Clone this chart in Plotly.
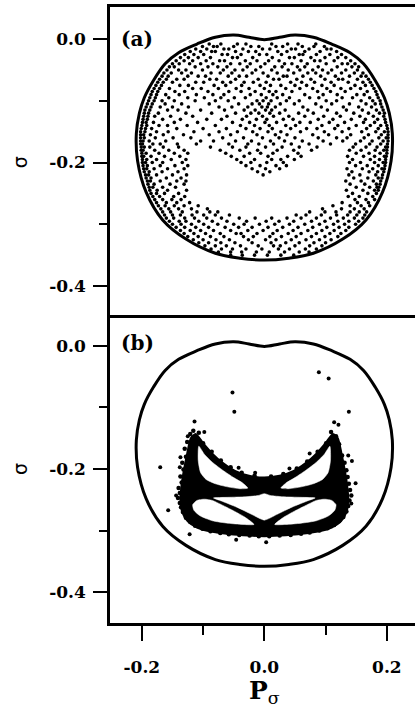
import plotly.graph_objects as go
from plotly.subplots import make_subplots

# ---------------- data ----------------
# energy boundary (same in both panels)
boundary_p = [0.000, -0.025, -0.050, -0.080, -0.110, -0.140, -0.162, -0.181, -0.196, -0.204, -0.209, -0.207,
              -0.193, -0.166, -0.128, -0.080, -0.040, 0.000, 0.040, 0.080, 0.128, 0.166, 0.193, 0.207,
              0.209, 0.204, 0.196, 0.181, 0.162, 0.140, 0.110, 0.080, 0.050, 0.025, 0.000]
boundary_s = [-0.001, 0.003, 0.0065, 0.003, -0.008, -0.022, -0.040, -0.067, -0.095, -0.120, -0.153, -0.197,
              -0.248, -0.293, -0.324, -0.347, -0.355, -0.358, -0.355, -0.347, -0.324, -0.293, -0.248, -0.197,
              -0.153, -0.120, -0.095, -0.067, -0.040, -0.022, -0.008, 0.003, 0.0065, 0.003, -0.001]

# panel (a) chaotic section points, rows of sigma (x1000) and P_sigma values (x1000)
a_sigma_rows = [-8, -12, -16, -20, -25, -30, -35, -40, -45, -50, -55, -60, -65, -70, -75, -80, -85, -90, -95,
                -100, -105, -110, -115, -120, -125, -130, -135, -140, -145, -150, -155, -160, -165, -170,
                -175, -180, -185, -190, -195, -200, -205, -210, -215, -220, -225, -230, -235, -240, -245,
                -250, -255, -260, -265, -270, -275, -280, -285, -290, -295, -300, -305, -310, -315, -320,
                -325, -330, -335, -340, -345, -350]
a_p_rows = [
    [-90, -71, -44, -30, 12, 38, 55, 84],
    [-101, -83, -77, -50, -22, -9, 19, 30, 62, 81, 98],
    [-112, -94, -66, -58, -35, -3, 9, 44, 51, 73, 102, 109],
    [-121, -104, -86, -80, -47, -26, -14, 22, 37, 66, 91, 118],
    [-130, -115, -99, -69, -60, -38, -8, 4, 28, 57, 63, 85, 107, 126],
    [-137, -124, -108, -88, -52, -44, -19, 13, 41, 49, 76, 99, 120, 133],
    [-144, -131, -117, -95, -73, -65, -31, -12, 7, 24, 60, 82, 91, 114, 141],
    [-150, -139, -122, -104, -84, -55, -40, -23, 1, 33, 45, 70, 101, 127, 136, 148],
    [-155, -147, -113, -92, -76, -61, -28, -6, 17, 29, 54, 66, 88, 119, 143, 154],
    [-159, -140, -128, -101, -67, -48, -35, -14, 12, 39, 58, 79, 95, 110, 133, 152],
    [-164, -152, -135, -119, -87, -72, -53, -20, -2, 21, 48, 71, 84, 104, 126, 147, 161],
    [-167, -157, -125, -108, -96, -59, -41, -29, 6, 31, 37, 63, 92, 116, 139, 158, 166],
    [-171, -160, -143, -131, -89, -78, -47, -10, 15, 24, 53, 76, 99, 121, 128, 152, 170],
    [-174, -165, -150, -112, -99, -68, -55, -33, -18, 3, 43, 61, 82, 109, 137, 161, 173],
    [-177, -168, -138, -124, -82, -63, -37, -7, 10, 27, 50, 69, 94, 114, 148, 165, 176],
    [-180, -171, -155, -117, -103, -75, -46, -25, 0, 35, 58, 79, 102, 125, 141, 157, 179],
    [-183, -174, -146, -130, -92, -58, -38, -15, 8, 19, 45, 87, 108, 132, 168, 182],
    [-185, -176, -161, -139, -111, -84, -66, -23, -5, 14, 30, 66, 96, 119, 151, 163, 184],
    [-187, -178, -156, -125, -98, -71, -49, -31, 3, 21, 41, 74, 89, 127, 144, 172, 186],
    [-189, -180, -167, -147, -113, -80, -59, -12, -2, 11, 36, 57, 101, 118, 158, 177, 189],
    [-191, -183, -162, -135, -90, -42, -20, -8, 7, 26, 49, 84, 110, 139, 166, 181, 190],
    [-193, -185, -170, -150, -124, -74, -53, -27, -4, 5, 18, 63, 93, 129, 154, 175, 192],
    [-195, -187, -158, -141, -104, -65, -33, -15, 2, 12, 34, 71, 103, 134, 160, 183, 194],
    [-196, -189, -173, -128, -86, -47, -22, -9, 9, 25, 56, 80, 118, 146, 170, 188, 196],
    [-197, -190, -179, -153, -117, -61, -29, -3, 15, 40, 66, 97, 124, 156, 178, 195],
    [-198, -191, -166, -137, -94, -70, -36, -13, 4, 31, 47, 88, 112, 142, 165, 185, 197],
    [-199, -193, -181, -147, -109, -52, -24, 1, 20, 58, 75, 106, 131, 162, 180, 198],
    [-200, -192, -172, -158, -126, -80, -39, -16, 8, 35, 51, 94, 120, 150, 173, 190, 200],
    [-201, -194, -184, -143, -100, -62, -30, -7, 13, 43, 69, 86, 115, 138, 167, 186, 201],
    [-202, -195, -176, -157, -115, -74, -44, -19, 6, 27, 59, 98, 127, 159, 182, 196, 202],
    [-202, -197, -186, -165, -132, -90, -55, -12, 18, 37, 79, 105, 141, 170, 191, 202],
    [-202, -196, -178, -149, -120, -68, -34, -3, 24, 50, 88, 118, 135, 163, 187, 199, 202],
    [-202, -198, -188, -161, -104, -83, -47, -21, 10, 33, 62, 96, 128, 157, 176, 194, 202],
    [-202, -199, -182, -170, -142, -111, -58, -27, -9, 15, 44, 73, 108, 149, 172, 190, 201],
    [-201, -196, -187, -165, -140, -88, -52, -30, 2, 29, 57, 86, 145, 166, 184, 198, 201],
    [-201, -198, -179, -156, -131, -72, -40, -11, 21, 48, 77, 139, 158, 181, 195, 200],
    [-200, -193, -172, -147, -125, -63, -24, -6, 14, 55, 150, 171, 189, 200],
    [-200, -197, -185, -163, -138, -54, -33, 6, 38, 60, 136, 162, 180, 196, 199],
    [-199, -192, -176, -152, -128, -45, -16, 12, 27, 49, 144, 173, 188, 198],
    [-199, -194, -183, -166, -134, -38, -22, 4, 31, 139, 157, 180, 194, 198],
    [-198, -191, -170, -146, -125, -30, -7, 19, 36, 149, 168, 186, 197],
    [-197, -192, -180, -158, -131, -20, 2, 25, 135, 160, 177, 192, 196],
    [-196, -188, -167, -141, -11, 9, 143, 171, 185, 195],
    [-194, -189, -176, -150, -127, -2, 138, 156, 182, 193],
    [-193, -185, -160, -136, 146, 169, 186, 192],
    [-191, -186, -170, -143, -128, 133, 158, 178, 190],
    [-190, -180, -154, -131, 140, 164, 183, 189],
    [-188, -182, -166, -145, 150, 172, 184, 187],
    [-187, -175, -158, -127, 134, 161, 180, 186],
    [-185, -176, -163, -140, 144, 169, 183],
    [-182, -171, -148, -130, 137, 155, 177],
    [-179, -166, -151, -136, 148, 166, 180],
    [-176, -160, -143, -122, 127, 152, 170],
    [-173, -162, -147, -131, -108, 112, 140, 158, 172],
    [-169, -156, -140, -119, -93, 95, 126, 147, 163],
    [-166, -153, -134, -110, -89, -76, 74, 99, 117, 140, 155, 167],
    [-163, -150, -137, -118, -99, -80, -57, 52, 68, 93, 118, 136, 151, 164],
    [-160, -148, -130, -114, -94, -70, -41, -15, 12, 37, 60, 85, 108, 129, 147, 161],
    [-155, -139, -128, -107, -85, -61, -29, 3, 24, 48, 77, 99, 120, 138, 154],
    [-150, -136, -119, -99, -76, -50, -33, -8, 17, 41, 66, 90, 113, 131, 149],
    [-144, -130, -112, -91, -64, -42, -20, 6, 30, 55, 79, 102, 122, 138],
    [-137, -121, -104, -83, -55, -27, -2, 21, 47, 71, 94, 114, 133],
    [-131, -115, -96, -72, -46, -38, -12, 14, 39, 60, 85, 107, 125],
    [-125, -108, -88, -66, -34, -18, 9, 28, 52, 77, 99, 120],
    [-116, -100, -79, -57, -26, 2, 19, 44, 68, 90, 109],
    [-107, -91, -71, -48, -20, 11, 35, 57, 81, 100],
    [-97, -80, -62, -39, -10, 15, 26, 50, 74, 94],
    [-87, -70, -52, -30, -4, 23, 41, 67, 85],
    [-75, -55, -37, -13, 8, 33, 57, 73],
    [-55, -36, -16, 5, 27, 48],
]

# panel (b): outline of the dense regular band structure
b_outer_p = [-0.112, -0.100, -0.085, -0.068, -0.048, -0.025, 0.000, 0.025, 0.048, 0.068, 0.085, 0.100, 0.112,
             0.120, 0.126, 0.131, 0.135, 0.137, 0.134, 0.125, 0.110, 0.085, 0.055, 0.025, 0.000,
             -0.025, -0.055, -0.085, -0.110, -0.125, -0.134, -0.137, -0.135, -0.131, -0.126, -0.120, -0.112]
b_outer_s = [-0.143, -0.158, -0.175, -0.190, -0.203, -0.211, -0.214, -0.211, -0.203, -0.190, -0.175, -0.158, -0.143,
             -0.150, -0.175, -0.200, -0.225, -0.250, -0.270, -0.285, -0.295, -0.302, -0.306, -0.308, -0.309,
             -0.308, -0.306, -0.302, -0.295, -0.285, -0.270, -0.250, -0.225, -0.200, -0.175, -0.150, -0.143]
# white islands inside the structure
b_hole_ul_p = [-0.107, -0.098, -0.085, -0.068, -0.050, -0.035, -0.027, -0.040, -0.060, -0.080, -0.095, -0.104, -0.108, -0.107]
b_hole_ul_s = [-0.163, -0.176, -0.189, -0.202, -0.214, -0.223, -0.231, -0.232, -0.229, -0.224, -0.217, -0.206, -0.186, -0.163]
b_hole_ur_p = [0.107, 0.098, 0.085, 0.068, 0.050, 0.035, 0.027, 0.040, 0.060, 0.080, 0.095, 0.104, 0.108, 0.107]
b_hole_ur_s = [-0.163, -0.176, -0.189, -0.202, -0.214, -0.223, -0.231, -0.232, -0.229, -0.224, -0.217, -0.206, -0.186, -0.163]
b_hole_ll_p = [-0.117, -0.110, -0.098, -0.085, -0.070, -0.050, -0.032, -0.017, -0.035, -0.060, -0.085, -0.105, -0.115, -0.117]
b_hole_ll_s = [-0.258, -0.251, -0.249, -0.251, -0.258, -0.268, -0.278, -0.290, -0.290, -0.288, -0.284, -0.276, -0.267, -0.258]
b_hole_lr_p = [0.117, 0.110, 0.098, 0.085, 0.070, 0.050, 0.032, 0.017, 0.035, 0.060, 0.085, 0.105, 0.115, 0.117]
b_hole_lr_s = [-0.258, -0.251, -0.249, -0.251, -0.258, -0.268, -0.278, -0.290, -0.290, -0.288, -0.284, -0.276, -0.267, -0.258]
b_lens_p = [-0.083, -0.060, -0.030, -0.010, 0.000, 0.010, 0.030, 0.060, 0.083,
            0.070, 0.045, 0.020, 0.000, -0.020, -0.045, -0.070, -0.083]
b_lens_s = [-0.247, -0.246, -0.245, -0.243, -0.240, -0.243, -0.245, -0.246, -0.247,
            -0.252, -0.262, -0.274, -0.283, -0.274, -0.262, -0.252, -0.247]

# fuzzy edge points around the structure
b_fuzz = [(-0.121, -0.143), (-0.116, -0.138), (-0.107, -0.141), (-0.126, -0.156), (-0.130, -0.167),
          (-0.128, -0.180), (-0.134, -0.190), (-0.132, -0.201), (-0.137, -0.212), (-0.135, -0.222),
          (-0.140, -0.231), (-0.138, -0.239), (-0.141, -0.247), (-0.138, -0.255), (-0.136, -0.262),
          (-0.133, -0.270), (-0.128, -0.279), (-0.121, -0.286), (-0.113, -0.292), (-0.101, -0.297),
          (-0.088, -0.301), (-0.072, -0.304), (-0.058, -0.306), (-0.041, -0.307), (-0.024, -0.308),
          (-0.009, -0.309), (0.008, -0.309), (0.025, -0.308), (0.043, -0.307), (0.060, -0.305),
          (0.074, -0.303), (0.090, -0.300), (0.103, -0.296), (0.114, -0.291), (0.122, -0.285),
          (0.129, -0.278), (0.134, -0.269), (0.137, -0.260), (0.139, -0.251), (0.142, -0.243),
          (0.140, -0.234), (0.138, -0.224), (0.136, -0.213), (0.134, -0.202), (0.131, -0.190),
          (0.127, -0.178), (0.122, -0.160), (0.117, -0.147), (0.109, -0.140),
          (-0.100, -0.158), (-0.086, -0.172), (-0.071, -0.186), (-0.055, -0.197), (-0.037, -0.206),
          (-0.016, -0.211), (0.011, -0.212), (0.031, -0.208), (0.053, -0.199), (0.070, -0.188),
          (0.087, -0.172), (0.101, -0.158)]

# isolated points in panel (b)
b_stray = [(0.089, -0.043), (0.105, -0.053), (-0.052, -0.076), (-0.049, -0.107), (-0.114, -0.123),
           (0.138, -0.107), (0.114, -0.124), (0.121, -0.128), (-0.170, -0.197), (-0.157, -0.267),
           (-0.122, -0.306), (-0.137, -0.181), (-0.138, -0.197), (-0.144, -0.243), (-0.135, -0.261),
           (-0.046, -0.315), (0.003, -0.319), (-0.015, -0.206), (-0.042, -0.198), (0.014, -0.216),
           (0.041, -0.199), (0.074, -0.175), (0.137, -0.178), (0.143, -0.187), (0.149, -0.223),
           (0.142, -0.256), (0.107, -0.288), (-0.098, -0.140), (-0.125, -0.147)]

y_tickvals = [0.0, -0.2, -0.4]
y_ticktext = ["0.0", "-0.2", "-0.4"]
x_tickvals = [-0.2, 0.0, 0.2]
x_ticktext = ["-0.2", "0.0", "0.2"]

# ---------------- figure ----------------
a_p, a_s = [], []
for s, row in zip(a_sigma_rows, a_p_rows):
    for p in row:
        a_p.append(p / 1000.0)
        a_s.append(s / 1000.0)

fig = make_subplots(rows=2, cols=1, shared_xaxes=True, vertical_spacing=0)

fig.add_trace(go.Scatter(x=a_p, y=a_s, mode="markers",
                         marker=dict(size=3.6, color="black"), showlegend=False), row=1, col=1)

for r in (1, 2):
    fig.add_trace(go.Scatter(x=boundary_p, y=boundary_s, mode="lines",
                             line=dict(color="black", width=3, shape="spline", smoothing=1.0),
                             showlegend=False), row=r, col=1)

# structure: black outline region, then white islands
fig.add_trace(go.Scatter(x=b_outer_p, y=b_outer_s, mode="lines", fill="toself", fillcolor="black",
                         line=dict(color="black", width=2, shape="spline", smoothing=0.6),
                         showlegend=False), row=2, col=1)
for hp, hs in ((b_hole_ul_p, b_hole_ul_s), (b_hole_ur_p, b_hole_ur_s), (b_hole_ll_p, b_hole_ll_s),
               (b_hole_lr_p, b_hole_lr_s), (b_lens_p, b_lens_s)):
    fig.add_trace(go.Scatter(x=hp, y=hs, mode="lines", fill="toself", fillcolor="white",
                             line=dict(color="white", width=0.5, shape="spline", smoothing=0.6),
                             showlegend=False), row=2, col=1)

fig.add_trace(go.Scatter(x=[q[0] for q in b_fuzz], y=[q[1] for q in b_fuzz], mode="markers",
                         marker=dict(size=4.5, color="black"), showlegend=False), row=2, col=1)
fig.add_trace(go.Scatter(x=[q[0] for q in b_stray], y=[q[1] for q in b_stray], mode="markers",
                         marker=dict(size=4, color="black"), showlegend=False), row=2, col=1)

tickfont = dict(family="DejaVu Serif", size=17, color="black", weight="bold")

for r, yr in ((1, [-0.447, 0.052]), (2, [-0.450, 0.050])):
    fig.update_yaxes(row=r, col=1, range=yr, tickvals=y_tickvals, ticktext=y_ticktext,
                     ticks="outside", ticklen=14, tickwidth=2, tickcolor="black",
                     minor=dict(ticks="outside", ticklen=8, tickwidth=2, tickcolor="black",
                                tickvals=[-0.1, -0.3]),
                     showline=True, linewidth=2.5, linecolor="black", mirror=False,
                     showgrid=False, zeroline=False, tickfont=tickfont, ticklabelstandoff=4,
                     automargin=False)

fig.update_xaxes(row=1, col=1, range=[-0.252, 0.246], showline=True, linewidth=2.5, linecolor="black",
                 mirror=True, ticks="", showticklabels=False, showgrid=False, zeroline=False,
                 automargin=False)
fig.update_xaxes(row=2, col=1, range=[-0.252, 0.246], tickvals=x_tickvals, ticktext=x_ticktext,
                 ticks="outside", ticklen=15, tickwidth=2, tickcolor="black",
                 minor=dict(ticks="outside", ticklen=9, tickwidth=2, tickcolor="black",
                            tickvals=[-0.1, 0.1]),
                 showline=True, linewidth=2.5, linecolor="black", mirror=False,
                 showgrid=False, zeroline=False, tickfont=tickfont, ticklabelstandoff=12,
                 automargin=False)

# axis titles
for yc in (0.748, 0.25):
    fig.add_annotation(text="σ", x=-0.295, y=yc, xref="paper", yref="paper",
                       xanchor="center", yanchor="middle", showarrow=False, textangle=-90,
                       font=dict(family="DejaVu Sans", size=19, color="black"))
fig.add_annotation(text="<b>P</b><sub>σ</sub>", x=0.505, y=-0.112, xref="paper", yref="paper",
                   xanchor="center", yanchor="middle", showarrow=False,
                   font=dict(family="DejaVu Serif", size=25, color="black"))

fig.add_annotation(text="<b>(a)</b>", x=0.03, y=0.948, xref="paper", yref="paper",
                   xanchor="left", yanchor="middle", showarrow=False,
                   font=dict(family="DejaVu Serif", size=20, color="black"))
fig.add_annotation(text="<b>(b)</b>", x=0.03, y=0.4545, xref="paper", yref="paper",
                   xanchor="left", yanchor="middle", showarrow=False,
                   font=dict(family="DejaVu Serif", size=20, color="black"))

fig.update_layout(width=415, height=710, margin=dict(l=110, r=0, t=7, b=87),
                  plot_bgcolor="white", paper_bgcolor="white")

# the page is shown edge to edge, without the browser's default body margin
fig.write_html("out.html", config={"displayModeBar": False},
               post_script="document.body.style.margin='0';")
